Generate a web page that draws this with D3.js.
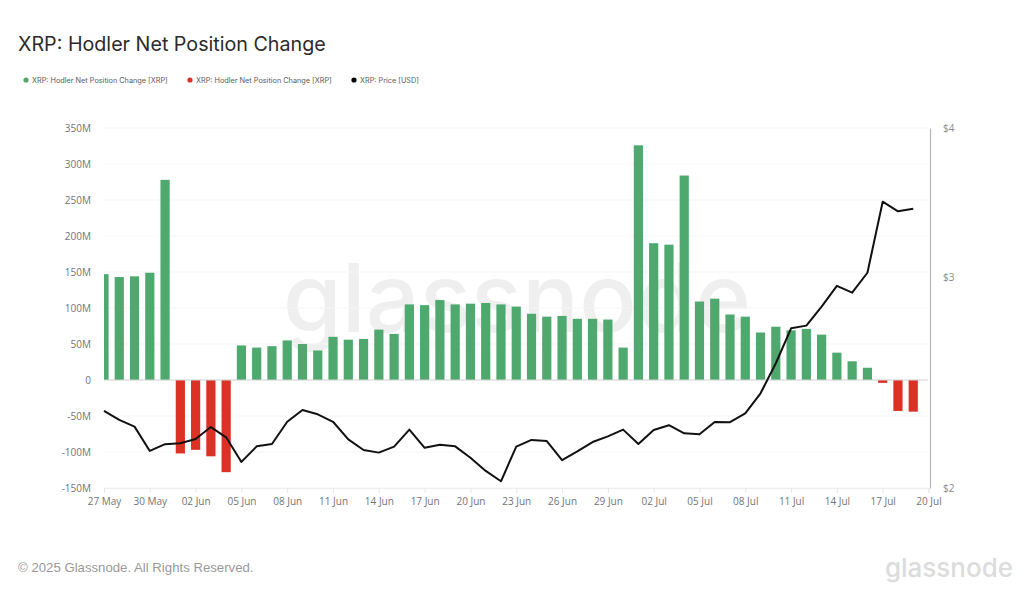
<!DOCTYPE html>
<html><head><meta charset="utf-8">
<script src="https://cdn.jsdelivr.net/npm/d3@7"></script>
<style>
html,body{margin:0;padding:0;background:#fff;width:1024px;height:608px;overflow:hidden}
svg{display:block}
.tick text{font-family:"Open Sans",sans-serif;font-size:10px;fill:#747474}
</style></head><body>
<svg id="c" width="1024" height="608"></svg>
<script>
const title = "XRP: Hodler Net Position Change";
const legendLabels = ["XRP: Hodler Net Position Change [XRP]","XRP: Hodler Net Position Change [XRP]","XRP: Price [USD]"];
const days = ["2025-05-27","2025-05-28","2025-05-29","2025-05-30","2025-05-31",
"2025-06-01","2025-06-02","2025-06-03","2025-06-04","2025-06-05","2025-06-06","2025-06-07","2025-06-08","2025-06-09","2025-06-10",
"2025-06-11","2025-06-12","2025-06-13","2025-06-14","2025-06-15","2025-06-16","2025-06-17","2025-06-18","2025-06-19","2025-06-20",
"2025-06-21","2025-06-22","2025-06-23","2025-06-24","2025-06-25","2025-06-26","2025-06-27","2025-06-28","2025-06-29","2025-06-30",
"2025-07-01","2025-07-02","2025-07-03","2025-07-04","2025-07-05","2025-07-06","2025-07-07","2025-07-08","2025-07-09","2025-07-10",
"2025-07-11","2025-07-12","2025-07-13","2025-07-14","2025-07-15","2025-07-16","2025-07-17","2025-07-18","2025-07-19"];
const netChangeM = [147,143,144,149,278,
-102,-97,-106,-128,48,45,47,55,50,41,60,56,57,70,64,105,104,111,105,106,107,105,102,92,88,89,85,85,84,45,
326,190,188,284,109,113,91,88,66,74,69,71,63,38,26,17,-4,-43,-44];
const priceUsd = [2.320,2.280,2.251,2.148,2.176,2.180,2.198,2.249,2.205,2.103,2.167,2.177,2.272,2.324,2.305,2.272,2.196,2.152,2.141,2.166,2.238,2.161,2.174,2.167,2.120,2.067,2.026,2.166,2.194,2.189,2.110,2.146,2.185,2.209,2.238,2.177,2.236,2.257,2.222,2.218,2.271,2.270,2.309,2.400,2.543,2.720,2.734,2.836,2.952,2.913,3.027,3.471,3.407,3.424];
const xTickDays = ["2025-05-27","2025-05-30","2025-06-02","2025-06-05","2025-06-08","2025-06-11","2025-06-14","2025-06-17","2025-06-20","2025-06-23","2025-06-26","2025-06-29","2025-07-02","2025-07-05","2025-07-08","2025-07-11","2025-07-14","2025-07-17","2025-07-20"];
const yTicks = [-150,-100,-50,0,50,100,150,200,250,300,350];
const priceTicks = [2,3,4];

const colors = {green:"#4fa96f", red:"#dc3226", line:"#111111"};
const svg = d3.select("#c");
const L=104,R=930,T=128,B=488;
const parse = d3.utcParse("%Y-%m-%d");
const x = d3.scaleUtc().domain([parse("2025-05-27"),parse("2025-07-20")]).range([L,R-1.5]);
const y = d3.scaleLinear().domain([-150,350]).range([B,T]);
const yP = d3.scaleLog().base(2).domain([2,4]).range([B,T]);

svg.append("defs").append("clipPath").attr("id","plot").append("rect")
  .attr("x",L).attr("y",T-5).attr("width",R-L).attr("height",B-T+5);

svg.append("text").attr("x",18).attr("y",50.5).text(title)
  .attr("font-family","Inter,sans-serif").attr("font-size",19.7).attr("fill","#2b2b2b");

const legendX=[26,190,354];
legendLabels.forEach((t,i)=>{
  const dot=[colors.green,colors.red,"#000"][i];
  svg.append("circle").attr("cx",legendX[i]).attr("cy",80).attr("r",2.6).attr("fill",dot);
  svg.append("text").attr("x",legendX[i]+6).attr("y",82.5).text(t)
    .attr("font-family","Inter,sans-serif").attr("font-size",7.3).attr("fill","#5c5c5c");
});

// watermark
svg.append("text").attr("x",517).attr("y",332).attr("text-anchor","middle").text("glassnode")
  .attr("font-family","Inter,sans-serif").attr("font-weight",500).attr("font-size",95).attr("fill","#efefef");

// grid
svg.append("g").selectAll("line").data(yTicks.filter(d=>d!==0)).join("line")
  .attr("x1",L).attr("x2",R-2).attr("y1",d=>y(d)).attr("y2",d=>y(d))
  .attr("stroke","#f5f5f5").attr("stroke-width",1);

// bars
const barW=9.2;
svg.append("g").attr("clip-path","url(#plot)").selectAll("rect").data(netChangeM).join("rect")
  .attr("x",(d,i)=>x(parse(days[i]))-barW/2).attr("width",barW)
  .attr("y",d=>y(Math.max(0,d))).attr("height",d=>Math.abs(y(d)-y(0)))
  .attr("fill",d=>d>=0?colors.green:colors.red);

// zero line
svg.append("line").attr("x1",L).attr("x2",R-2).attr("y1",y(0)).attr("y2",y(0)).attr("stroke","#cfcfcf");

// left axis
const ay=svg.append("g").attr("transform",`translate(${L-13},0)`)
  .call(d3.axisLeft(y).tickValues(yTicks).tickSize(0).tickPadding(0).tickFormat(d=>d===0?"0":d+"M"));
ay.select(".domain").remove();

// bottom axis
const ax=svg.append("g").attr("transform",`translate(0,${B})`)
  .call(d3.axisBottom(x).tickValues(xTickDays.map(parse)).tickSize(5).tickPadding(5).tickFormat(d3.utcFormat("%d %b")));
ax.select(".domain").attr("stroke","#ededed");
ax.selectAll(".tick line").attr("stroke","#e6e6e6");

// right axis
const ar=svg.append("g").attr("transform",`translate(${R},0)`)
  .call(d3.axisRight(yP).tickValues(priceTicks).tickSize(0).tickPadding(13).tickFormat(d=>"$"+d));
ar.select(".domain").attr("stroke","#b5b5b5").attr("stroke-width",1.2);
ar.selectAll("text").style("fill","#8a8a8a");

// price line
const line=d3.line().x((d,i)=>x(parse(days[i]))).y(d=>yP(d));
svg.append("path").datum(priceUsd).attr("d",line).attr("fill","none")
  .attr("stroke",colors.line).attr("stroke-width",2).attr("stroke-linejoin","round");

// footer
svg.append("text").attr("x",18).attr("y",572).text("© 2025 Glassnode. All Rights Reserved.")
  .attr("font-family","Liberation Sans,sans-serif").attr("font-size",13.2).attr("fill","#999");
svg.append("text").attr("x",1013).attr("y",577).attr("text-anchor","end").text("glassnode")
  .attr("font-family","Inter,sans-serif").attr("font-weight",500).attr("font-size",26).attr("fill","#dcdcdc");
</script></body></html>
